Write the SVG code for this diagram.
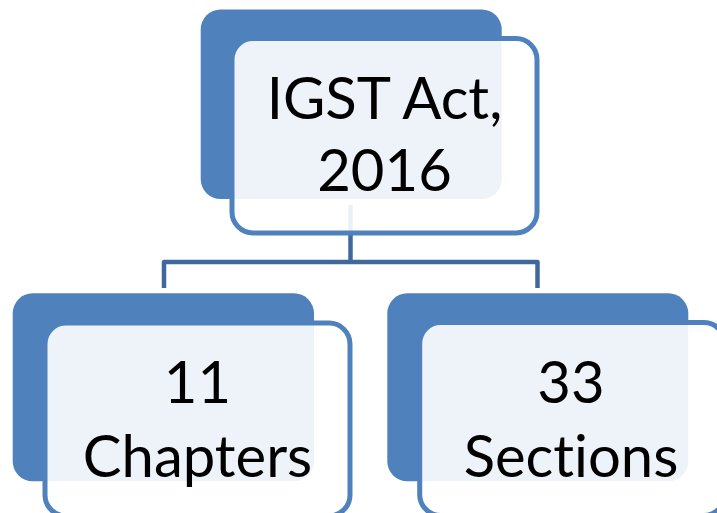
<svg xmlns="http://www.w3.org/2000/svg" width="717" height="513" viewBox="0 0 717 513">
<style>
.back{fill:#4F81BD;}
.front{fill:#FFFFFF;fill-opacity:0.9;stroke:#4F81BD;stroke-width:5;}
.conn{fill:none;stroke:#41689C;stroke-width:4.5;stroke-linejoin:round;}
.lbl{font-family:Lato,"Open Sans","Liberation Sans",sans-serif;font-size:58px;fill:#000000;text-anchor:middle;font-variant-ligatures:none;font-feature-settings:"liga" 0;}
</style>
<rect width="717" height="513" fill="#FFFFFF"/>
<g id="connectors">
<path class="conn" d="M350.5,205 V262 M164,288 V262 H537.5 V288"/>
</g>
<g id="node-igst">
<rect class="back" x="200.7" y="9.5" width="301" height="189.5" rx="20"/>
<rect class="front" x="232" y="38.5" width="305" height="194.5" rx="21"/>
<text class="lbl" x="384.5" y="119.3">IGST Act,</text>
<text class="lbl" x="384.5" y="190.7">2016</text>
</g>
<g id="node-chapters">
<rect class="back" x="12.7" y="293.3" width="301.3" height="188" rx="20"/>
<rect class="front" x="45" y="323" width="305" height="193" rx="21"/>
<text class="lbl" x="197.5" y="402.7">11</text>
<text class="lbl" x="197.5" y="476.7">Chapters</text>
</g>
<g id="node-sections">
<rect class="back" x="387.3" y="293.3" width="301" height="188" rx="20"/>
<rect class="front" x="419.7" y="322.5" width="305" height="193" rx="21"/>
<text class="lbl" x="571" y="402.7">33</text>
<text class="lbl" x="571" y="476.7">Sections</text>
</g>
</svg>
